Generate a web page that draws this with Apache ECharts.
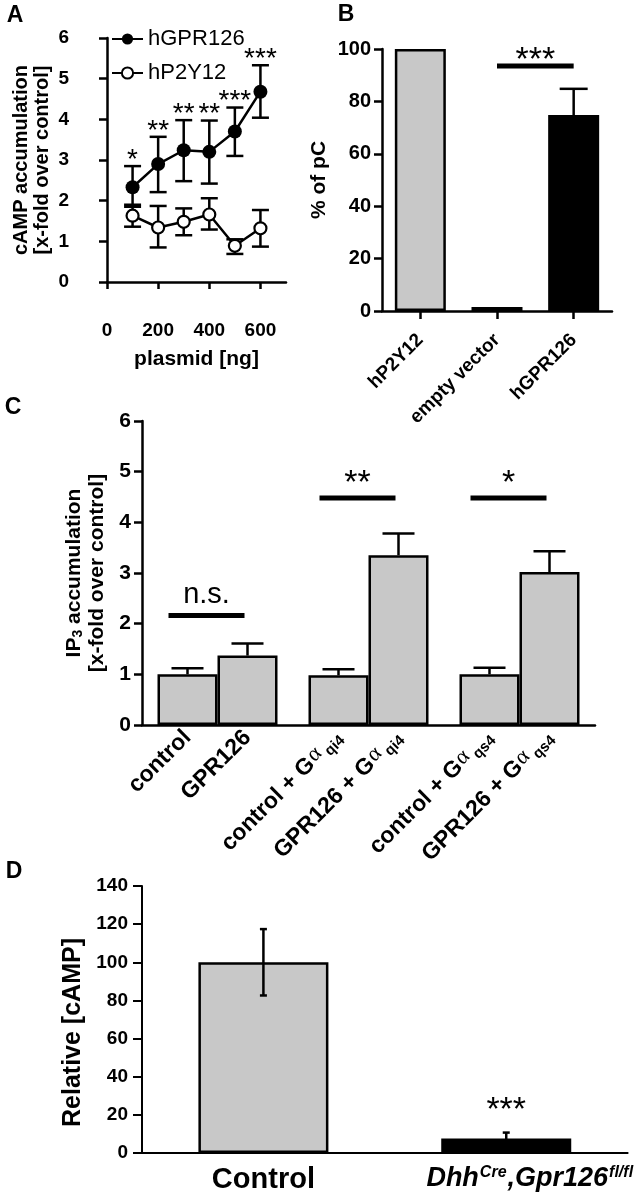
<!DOCTYPE html>
<html><head><meta charset="utf-8">
<script src="https://cdn.jsdelivr.net/npm/echarts@6/dist/echarts.min.js"></script>
<style>html,body{margin:0;padding:0;background:#fff}#c{width:636px;height:1199px}</style>
</head><body><div id="c"></div>
<script>
// ---------- Panel A data ----------
const plasmidNg   = [100, 200, 300, 400, 500, 600];
const gpr126Mean  = [2.33, 2.90, 3.24, 3.20, 3.70, 4.68];
const gpr126Upper = [2.85, 3.57, 3.98, 3.97, 4.29, 5.33];
const gpr126Lower = [1.85, 2.21, 2.48, 2.42, 3.10, 4.04];
const p2y12Mean   = [1.63, 1.34, 1.48, 1.66, 0.89, 1.32];
const p2y12Upper  = [1.90, 1.87, 1.81, 2.06, 1.05, 1.77];
const p2y12Lower  = [1.36, 0.85, 1.15, 1.29, 0.69, 0.87];
const starsA      = ['*', '**', '**', '**', '***', '***'];
const xTicksA     = [0, 200, 400, 600];

// ---------- Panel B data ----------
const catsB      = ['hP2Y12', 'empty vector', 'hGPR126'];
const valsB      = [100, 1.5, 74.8];
const errB       = [0, 0, 10.0];
const sigFromB   = [1];
const sigToB     = [2];
const sigLevelB  = [93.5];
const sigTextB   = ['***'];

// ---------- Panel C data ----------
const namesC     = ['control', 'GPR126'];
const gSubsC     = ['', 'qi4', 'qs4'];
const ctrlC      = [1.00, 0.98, 1.00];
const ctrlErrC   = [0.12, 0.12, 0.13];
const gprC       = [1.37, 3.35, 3.02];
const gprErrC    = [0.24, 0.43, 0.41];
const sigLevelC  = [2.16, 4.48, 4.48];
const sigTextC   = ['n.s.', '**', '*'];

// ---------- Panel D data ----------
const catsD      = ['Control', 'Dhh^{Cre},Gpr126^{fl/fl}'];
const valsD      = [100, 7.6];
const errD       = [17.4, 3.1];
const starsD     = ['', '***'];

// ---------- styles ----------
const FONT = '"Liberation Sans", Arial, Helvetica, sans-serif';
const GRAY = '#c8c8c8';
const BLACK = '#000000';
const barColorsB = [GRAY, BLACK, BLACK];
const barColorsD = [GRAY, BLACK];

function errorBars(offset, capW, lw, lowerCap) {
  return function (params, api) {
    const x = api.value(0);
    const lo = api.coord([x, api.value(1)]);
    const hi = api.coord([x, api.value(2)]);
    const cx = hi[0] + offset;
    const ch = [
      {type: 'line', shape: {x1: cx, y1: hi[1], x2: cx, y2: lo[1]}, style: {stroke: BLACK, lineWidth: lw}},
      {type: 'line', shape: {x1: cx - capW / 2, y1: hi[1], x2: cx + capW / 2, y2: hi[1]}, style: {stroke: BLACK, lineWidth: lw}}
    ];
    if (lowerCap) ch.push({type: 'line', shape: {x1: cx - capW / 2, y1: lo[1], x2: cx + capW / 2, y2: lo[1]}, style: {stroke: BLACK, lineWidth: lw}});
    return {type: 'group', children: ch};
  };
}
function starText(texts, gap, size) {
  return function (params, api) {
    const p = api.coord([api.value(0), api.value(1)]);
    return {type: 'text', x: p[0], y: p[1] - gap,
      style: {text: texts[params.dataIndex], fill: BLACK, fontSize: size, fontFamily: FONT, align: 'center', verticalAlign: 'middle'}};
  };
}
function sigRenderB(params, api) {
  const a = api.coord([api.value(0), api.value(2)]);
  const b = api.coord([api.value(1), api.value(2)]);
  return {type: 'group', children: [
    {type: 'line', shape: {x1: a[0], y1: a[1], x2: b[0], y2: b[1]}, style: {stroke: BLACK, lineWidth: 5}},
    {type: 'text', x: (a[0] + b[0]) / 2, y: a[1] - 5,
      style: {text: sigTextB[params.dataIndex], fill: BLACK, fontSize: 34, fontFamily: FONT, align: 'center', verticalAlign: 'middle'}}
  ]};
}
const SIG_HALF_C = 38, SIG_SHIFT_C = -11;
function sigRenderC(params, api) {
  const c = api.coord([api.value(0), api.value(1)]);
  const t = sigTextC[params.dataIndex];
  const mid = c[0] + SIG_SHIFT_C;
  const isNs = t === 'n.s.';
  return {type: 'group', children: [
    {type: 'line', shape: {x1: mid - SIG_HALF_C, y1: c[1], x2: mid + SIG_HALF_C, y2: c[1]}, style: {stroke: BLACK, lineWidth: 5}},
    {type: 'text', x: mid, y: c[1] - (isNs ? 21 : 14.5),
      style: {text: t, fill: BLACK, fontSize: isNs ? 29 : 34, fontFamily: FONT, align: 'center', verticalAlign: 'middle'}}
  ]};
}
function labelC(s, i) {
  const base = namesC[s];
  const sub = gSubsC[i];
  return sub ? '{b|' + base + ' + G}{a|α}{s|' + sub + '}' : '{b|' + base + '}';
}
const richC = {
  b: {fontSize: 23, fontWeight: 'bold', fontFamily: FONT, color: BLACK},
  a: {fontSize: 22, fontWeight: 'normal', fontFamily: '"Liberation Serif", serif', color: BLACK, padding: [0, 4, 5, 1]},
  s: {fontSize: 15, fontWeight: 'bold', fontFamily: FONT, color: BLACK, verticalAlign: 'bottom', padding: [6, 0, 0, 0]}
};
function labelD(v, i) {
  if (i === 0) return '{c|' + v + '}';
  const parts = v.split(/\^\{([^}]*)\}/);
  let out = '';
  parts.forEach(function (p, k) {
    if (!p) return;
    if (k % 2 === 1) out += '{sup|' + p + '}';
    else out += (k === 0 ? '{i0|' : '{i|') + p + '}';
  });
  return out;
}

const axisLineStyle = (w) => ({show: true, lineStyle: {color: BLACK, width: w}});
const tickStyle = (len, w) => ({show: true, inside: false, length: len, lineStyle: {color: BLACK, width: w}});
const lblStyle = (size, margin) => ({show: true, color: BLACK, fontSize: size, fontWeight: 'bold', fontFamily: FONT, margin: margin});

const chart = echarts.init(document.getElementById('c'), null, {renderer: 'canvas'});
const option = {
  animation: false,
  backgroundColor: '#ffffff',
  textStyle: {fontFamily: FONT, color: BLACK},
  legend: {
    data: ['hGPR126', 'hP2Y12'], orient: 'vertical', left: 106, top: 23,
    itemWidth: 31, itemHeight: 14, itemGap: 12,
    textStyle: {fontSize: 22, color: BLACK, fontFamily: FONT}
  },
  grid: [
    {left: 107, top: 38, width: 179, height: 244, containLabel: false},
    {left: 382, top: 49, width: 230, height: 262, containLabel: false},
    {left: 142, top: 421, width: 453, height: 304, containLabel: false},
    {left: 142, top: 886, width: 486, height: 267, containLabel: false}
  ],
  xAxis: [
    {gridIndex: 0, type: 'value', min: 0, max: 700, interval: 200, offset: 27,
      axisLine: axisLineStyle(2.5), axisTick: Object.assign(tickStyle(7, 2.5), {customValues: xTicksA}),
      axisLabel: Object.assign(lblStyle(19, 12), {customValues: xTicksA}), splitLine: {show: false},
      name: 'plasmid [ng]', nameLocation: 'middle', nameGap: 40,
      nameTextStyle: {fontSize: 21, fontWeight: 'bold', fontFamily: FONT, color: BLACK}},
    {gridIndex: 1, type: 'category', data: catsB,
      axisLine: axisLineStyle(2.5), axisTick: Object.assign(tickStyle(8, 2.5), {alignWithLabel: true}),
      axisLabel: Object.assign(lblStyle(19, 26), {rotate: 45, interval: 0}), splitLine: {show: false}},
    {gridIndex: 2, type: 'category', data: gSubsC,
      axisLine: axisLineStyle(2.5), axisTick: {show: false}, axisLabel: {show: false}, splitLine: {show: false}},
    {gridIndex: 3, type: 'category', data: catsD,
      axisLine: axisLineStyle(2), axisTick: {show: false},
      axisLabel: Object.assign(lblStyle(29, 12), {interval: 0, formatter: labelD, rich: {
        c: {fontSize: 29, fontWeight: 'bold', fontFamily: FONT, color: BLACK},
        i: {fontSize: 27, fontWeight: 'bold', fontStyle: 'italic', fontFamily: FONT, color: BLACK},
        i0: {fontSize: 27, fontWeight: 'bold', fontStyle: 'italic', fontFamily: FONT, color: BLACK, padding: [0, 0, 0, 48]},
        sup: {fontSize: 16, fontWeight: 'bold', fontStyle: 'italic', fontFamily: FONT, color: BLACK, verticalAlign: 'top', padding: [0, 1, 10, 1]}
      }}), splitLine: {show: false}}
  ],
  yAxis: [
    {gridIndex: 0, type: 'value', min: 0, max: 6, interval: 1, offset: 27,
      axisLine: axisLineStyle(2.5), axisTick: tickStyle(8, 2.5), axisLabel: lblStyle(19, 11), splitLine: {show: false},
      name: 'cAMP accumulation\n[x-fold over control]', nameLocation: 'middle', nameGap: 27, nameRotate: 90,
      nameTextStyle: {fontSize: 20, fontWeight: 'bold', fontFamily: FONT, color: BLACK, lineHeight: 21}},
    {gridIndex: 1, type: 'value', min: 0, max: 100, interval: 20,
      axisLine: axisLineStyle(2.5), axisTick: tickStyle(8, 2.5), axisLabel: lblStyle(20, 11), splitLine: {show: false},
      name: '% of pC', nameLocation: 'middle', nameGap: 52, nameRotate: 90,
      nameTextStyle: {fontSize: 21, fontWeight: 'bold', fontFamily: FONT, color: BLACK}},
    {gridIndex: 2, type: 'value', min: 0, max: 6, interval: 1,
      axisLine: axisLineStyle(2.5), axisTick: tickStyle(8, 2.5), axisLabel: lblStyle(21, 11), splitLine: {show: false},
      name: '{b|IP}{sub|3}{b| accumulation}\n{b|[x-fold over control]}', nameLocation: 'middle', nameGap: 27, nameRotate: 90,
      nameTextStyle: {fontSize: 21, fontWeight: 'bold', fontFamily: FONT, color: BLACK, lineHeight: 23, rich: {
        b: {fontSize: 21, fontWeight: 'bold', fontFamily: FONT, color: BLACK, lineHeight: 23},
        sub: {fontSize: 14, fontWeight: 'bold', fontFamily: FONT, color: BLACK, verticalAlign: 'bottom', lineHeight: 23}
      }}},
    {gridIndex: 3, type: 'value', min: 0, max: 140, interval: 20,
      axisLine: axisLineStyle(2), axisTick: tickStyle(9, 2), axisLabel: lblStyle(19, 14), splitLine: {show: false},
      name: 'Relative [cAMP]', nameLocation: 'middle', nameGap: 56, nameRotate: 90,
      nameTextStyle: {fontSize: 25, fontWeight: 'bold', fontFamily: FONT, color: BLACK, padding: [0, 26, 0, 0]}}
  ],
  series: [
    // ----- A -----
    {type: 'custom', xAxisIndex: 0, yAxisIndex: 0, z: 1, clip: false, encode: {x: 0, y: [1, 2]},
      renderItem: errorBars(0, 17, 2.5, true),
      data: plasmidNg.map((x, i) => [x, gpr126Lower[i], gpr126Upper[i]])},
    {type: 'custom', xAxisIndex: 0, yAxisIndex: 0, z: 1, clip: false, encode: {x: 0, y: [1, 2]},
      renderItem: errorBars(0, 17, 2.5, true),
      data: plasmidNg.map((x, i) => [x, p2y12Lower[i], p2y12Upper[i]])},
    {name: 'hGPR126', type: 'line', xAxisIndex: 0, yAxisIndex: 0, z: 3,
      symbol: 'circle', symbolSize: 14, itemStyle: {color: BLACK},
      lineStyle: {color: BLACK, width: 2.5},
      data: plasmidNg.map((x, i) => [x, gpr126Mean[i]])},
    {name: 'hP2Y12', type: 'line', xAxisIndex: 0, yAxisIndex: 0, z: 3,
      symbol: 'circle', symbolSize: 12, itemStyle: {color: '#ffffff', borderColor: BLACK, borderWidth: 2.2},
      lineStyle: {color: BLACK, width: 2.5},
      data: plasmidNg.map((x, i) => [x, p2y12Mean[i]])},
    {type: 'custom', xAxisIndex: 0, yAxisIndex: 0, z: 4, clip: false, encode: {x: 0, y: 1},
      renderItem: starText(starsA, 6, 28),
      data: plasmidNg.map((x, i) => [x, gpr126Upper[i]])},
    // ----- B -----
    {type: 'bar', xAxisIndex: 1, yAxisIndex: 1, barWidth: 51,
      itemStyle: {borderColor: BLACK, borderWidth: 2.5},
      data: valsB.map((v, i) => ({value: v, itemStyle: {color: barColorsB[i]}}))},
    {type: 'custom', xAxisIndex: 1, yAxisIndex: 1, z: 5, clip: false, encode: {x: 0, y: [1, 2]},
      renderItem: errorBars(0, 28, 2.5, false),
      data: valsB.map((v, i) => [i, v, v + errB[i]]).filter((d, i) => errB[i] > 0)},
    {type: 'custom', xAxisIndex: 1, yAxisIndex: 1, z: 5, clip: false, encode: {x: 0, y: 2},
      renderItem: sigRenderB,
      data: sigFromB.map((f, i) => [f, sigToB[i], sigLevelB[i]])},
    // ----- C -----
    {type: 'bar', xAxisIndex: 2, yAxisIndex: 2, barWidth: 60, barGap: '0%',
      itemStyle: {color: GRAY, borderColor: BLACK, borderWidth: 2.5},
      label: {show: true, position: 'bottom', distance: 9, rotate: 45, align: 'right', verticalAlign: 'middle',
        color: BLACK, fontSize: 23, fontWeight: 'bold', fontFamily: FONT,
        formatter: (p) => labelC(0, p.dataIndex), rich: richC},
      data: ctrlC},
    {type: 'bar', xAxisIndex: 2, yAxisIndex: 2, barWidth: 60, barGap: '0%',
      itemStyle: {color: GRAY, borderColor: BLACK, borderWidth: 2.5},
      label: {show: true, position: 'bottom', distance: 9, rotate: 45, align: 'right', verticalAlign: 'middle',
        color: BLACK, fontSize: 23, fontWeight: 'bold', fontFamily: FONT,
        formatter: (p) => labelC(1, p.dataIndex), rich: richC},
      data: gprC},
    {type: 'custom', xAxisIndex: 2, yAxisIndex: 2, z: 5, clip: false, encode: {x: 0, y: [1, 2]},
      renderItem: errorBars(-30, 32, 2.5, false),
      data: ctrlC.map((v, i) => [i, v, v + ctrlErrC[i]])},
    {type: 'custom', xAxisIndex: 2, yAxisIndex: 2, z: 5, clip: false, encode: {x: 0, y: [1, 2]},
      renderItem: errorBars(30, 32, 2.5, false),
      data: gprC.map((v, i) => [i, v, v + gprErrC[i]])},
    {type: 'custom', xAxisIndex: 2, yAxisIndex: 2, z: 5, clip: false, encode: {x: 0, y: 1},
      renderItem: sigRenderC,
      data: sigLevelC.map((l, i) => [i, l])},
    // ----- D -----
    {type: 'bar', xAxisIndex: 3, yAxisIndex: 3, barWidth: 130,
      itemStyle: {borderColor: BLACK, borderWidth: 2.5},
      data: valsD.map((v, i) => ({value: v, itemStyle: {color: barColorsD[i]}}))},
    {type: 'custom', xAxisIndex: 3, yAxisIndex: 3, z: 5, clip: false, encode: {x: 0, y: [1, 2]},
      renderItem: errorBars(0, 7, 2.5, true),
      data: valsD.map((v, i) => [i, v - errD[i], v + errD[i]])},
    {type: 'custom', xAxisIndex: 3, yAxisIndex: 3, z: 5, clip: false, encode: {x: 0, y: 1},
      renderItem: starText(starsD, 21.5, 34),
      data: valsD.map((v, i) => [i, v + errD[i]])}
  ],
  graphic: [
    {type: 'text', x: 15, y: 16, style: {text: 'A', fontSize: 23, fontWeight: 'bold', fontFamily: FONT, fill: BLACK, align: 'center', verticalAlign: 'middle'}},
    {type: 'text', x: 346, y: 15, style: {text: 'B', fontSize: 23, fontWeight: 'bold', fontFamily: FONT, fill: BLACK, align: 'center', verticalAlign: 'middle'}},
    {type: 'text', x: 13, y: 408, style: {text: 'C', fontSize: 23, fontWeight: 'bold', fontFamily: FONT, fill: BLACK, align: 'center', verticalAlign: 'middle'}},
    {type: 'text', x: 14, y: 872, style: {text: 'D', fontSize: 23, fontWeight: 'bold', fontFamily: FONT, fill: BLACK, align: 'center', verticalAlign: 'middle'}}
  ]
};
chart.setOption(option);
</script>
</body></html>
